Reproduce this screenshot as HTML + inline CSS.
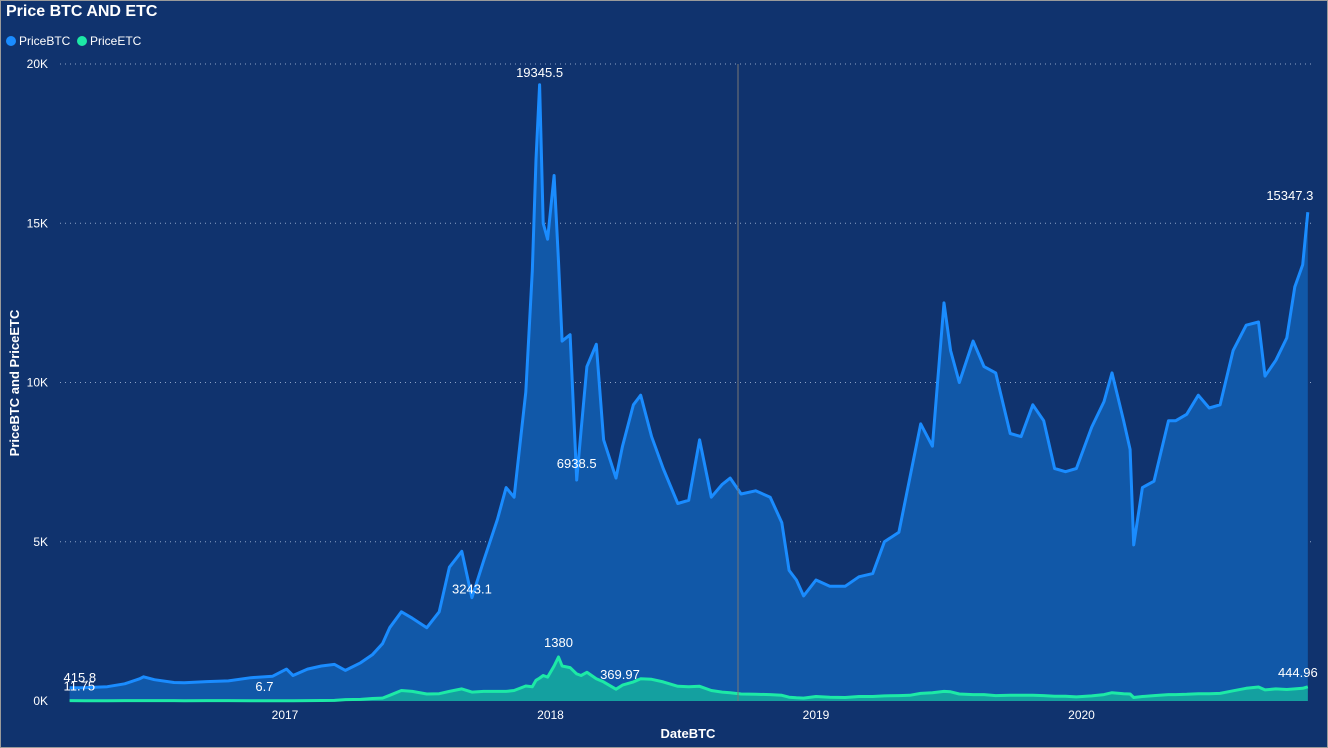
<!DOCTYPE html>
<html><head><meta charset="utf-8"><style>
html,body{margin:0;padding:0;background:#10336e;}
body{width:1328px;height:748px;overflow:hidden;position:relative;font-family:"Liberation Sans",sans-serif;}
#frame{position:absolute;left:0;top:0;width:1326px;height:746px;border:1px solid #9a9a9a;}
#title{position:absolute;left:6px;top:3px;color:#fff;font-size:16px;font-weight:bold;}
.leg{position:absolute;top:34px;color:#fff;font-size:12px;display:flex;align-items:center;}
.dot{width:10px;height:10px;border-radius:50%;margin-right:3px;display:inline-block;}
svg{position:absolute;left:0;top:0;}
</style></head><body>
<div id="frame"></div>
<div id="title">Price BTC AND ETC</div>
<div class="leg" style="left:6px"><span class="dot" style="background:#1a8cff"></span>PriceBTC</div>
<div class="leg" style="left:77px"><span class="dot" style="background:#1de9a6"></span>PriceETC</div>
<svg id="chart" width="1328" height="748"></svg>
<script>
const dates=["2016-03-10","2016-04-01","2016-05-01","2016-05-25","2016-06-15","2016-06-20","2016-07-05","2016-08-01","2016-08-15","2016-09-15","2016-10-15","2016-11-15","2016-12-15","2017-01-03","2017-01-12","2017-02-01","2017-02-20","2017-03-10","2017-03-25","2017-04-15","2017-05-01","2017-05-15","2017-05-25","2017-06-10","2017-06-25","2017-07-15","2017-08-01","2017-08-15","2017-09-01","2017-09-15","2017-10-01","2017-10-20","2017-11-01","2017-11-12","2017-11-28","2017-12-07","2017-12-12","2017-12-17","2017-12-22","2017-12-28","2018-01-06","2018-01-12","2018-01-17","2018-01-28","2018-02-06","2018-02-12","2018-02-20","2018-03-05","2018-03-15","2018-04-01","2018-04-10","2018-04-25","2018-05-05","2018-05-20","2018-06-05","2018-06-25","2018-07-10","2018-07-25","2018-08-10","2018-08-25","2018-09-05","2018-09-20","2018-10-10","2018-10-30","2018-11-15","2018-11-25","2018-12-05","2018-12-15","2019-01-01","2019-01-20","2019-02-10","2019-03-01","2019-03-20","2019-04-05","2019-04-25","2019-05-10","2019-05-25","2019-06-10","2019-06-26","2019-07-05","2019-07-17","2019-08-05","2019-08-20","2019-09-05","2019-09-25","2019-10-10","2019-10-26","2019-11-10","2019-11-25","2019-12-10","2019-12-25","2020-01-15","2020-02-01","2020-02-12","2020-02-28","2020-03-08","2020-03-13","2020-03-25","2020-04-10","2020-04-30","2020-05-10","2020-05-25","2020-06-10","2020-06-25","2020-07-10","2020-07-28","2020-08-15","2020-09-01","2020-09-10","2020-09-25","2020-10-10","2020-10-21","2020-11-01","2020-11-08"];
const btc=[415.8,420,450,540,700,760,670,580,575,610,630,730,780,1000,800,1000,1100,1150,960,1200,1450,1800,2300,2800,2600,2300,2800,4200,4700,3243.1,4400,5700,6700,6400,9700,13500,17000,19345.5,15000,14500,16500,13800,11300,11500,6938.5,8500,10500,11200,8200,7000,8000,9300,9600,8300,7300,6200,6300,8200,6400,6800,7000,6500,6600,6400,5600,4100,3800,3300,3800,3600,3600,3900,4000,5000,5300,7000,8700,8000,12500,11000,10000,11300,10500,10300,8400,8300,9300,8800,7300,7200,7300,8600,9400,10300,8800,7900,4900,6700,6900,8800,8800,9000,9600,9200,9300,11000,11800,11900,10200,10700,11400,13000,13700,15347.3];
const etc=[11.75,8,9,13,14,12,11,11,10,12,11,10,8,6.7,9,11,15,20,45,50,80,90,180,330,300,220,230,300,380,280,300,300,300,330,470,450,650,720,800,750,1100,1380,1100,1050,850,800,900,700,600,369.97,500,600,700,680,600,460,450,460,330,280,260,220,210,200,180,120,100,90,140,120,110,140,140,160,170,180,240,260,300,290,220,200,200,170,180,180,180,170,150,150,130,160,200,260,230,220,110,140,170,200,200,210,230,230,240,320,400,440,350,380,360,380,400,444.96];
const labels=[["2016-03-10",415.8,"415.8",-6,-6],["2017-12-17",19345.5,"19345.5",0,-8],["2018-02-06",6938.5,"6938.5",0,-12],["2017-09-15",3243.1,"3243.1",0,-4],["2020-11-08",15347.3,"15347.3",-18,-12]];
const elabels=[["2016-03-10",11.75,"11.75",-6,-10],["2017-01-03",6.7,"6.7",-22,-10],["2018-01-12",1380,"1380",0,-10],["2018-04-01",369.97,"369.97",4,-10],["2020-11-08",444.96,"444.96",-10,-10]];
const yTicks=[0,5000,10000,15000,20000];
const yTickText=["0K","5K","10K","15K","20K"];
const xYears=[2017,2018,2019,2020];

function dec(s){const d=new Date(s+"T00:00:00Z");const y=d.getUTCFullYear();const a=Date.UTC(y,0,1),b=Date.UTC(y+1,0,1);return y+(d-a)/(b-a);}
const X=s=>285+(dec(s)-2017)*265.5;
const Y=v=>701-v/20000*637;
const svg=document.getElementById('chart');const NS="http://www.w3.org/2000/svg";
function mk(t,a){const e=document.createElementNS(NS,t);for(const k in a)e.setAttribute(k,a[k]);svg.appendChild(e);return e;}
yTicks.forEach((v,i)=>{
 if(v>0){const g=mk('line',{x1:60,x2:1312,y1:Y(v),y2:Y(v),stroke:'#8ea3c7','stroke-dasharray':'1 4','stroke-width':1});
 
 }
 const t=mk('text',{x:48,y:Y(v)+4,fill:'#fff','font-size':12,'text-anchor':'end'});t.textContent=yTickText[i];
 
 
});
xYears.forEach(yr=>{const t=mk('text',{x:X(yr+"-01-01"),y:719,fill:'#fff','font-size':12,'text-anchor':'middle'});t.textContent=yr;
 
 });
function area(vals,fill,stroke,name){
 let p=dates.map((d,i)=>X(d).toFixed(1)+","+Y(vals[i]).toFixed(1));
 const a=mk('polygon',{points:X(dates[0])+","+Y(0)+" "+p.join(" ")+" "+X(dates[dates.length-1])+","+Y(0),fill:fill});
 
 
 const l=mk('polyline',{points:p.join(" "),fill:'none',stroke:stroke,'stroke-width':3,'stroke-linejoin':'round'});
 
 
}
area(btc,'#1158a8','#1a8cff','btc');
area(etc,'#14a0a0','#1de9a6','etc');
const vl=mk('line',{x1:738,x2:738,y1:64,y2:701,stroke:'#777','stroke-width':1});


labels.concat(elabels).forEach(l=>{const anchor=l[0]==="2016-03-10"?'start':'middle';
 const t=mk('text',{x:X(l[0])+l[3],y:Y(l[1])+l[4],fill:'#fff','font-size':13,'text-anchor':anchor});t.textContent=l[2];
 
 });
const xt=mk('text',{x:688,y:738,fill:'#fff','font-size':13,'font-weight':'bold','text-anchor':'middle'});xt.textContent="DateBTC";


const yt=mk('text',{x:0,y:0,fill:'#fff','font-size':13,'font-weight':'bold','text-anchor':'middle',transform:'translate(19,383) rotate(-90)'});yt.textContent="PriceBTC and PriceETC";


</script>
</body></html>
